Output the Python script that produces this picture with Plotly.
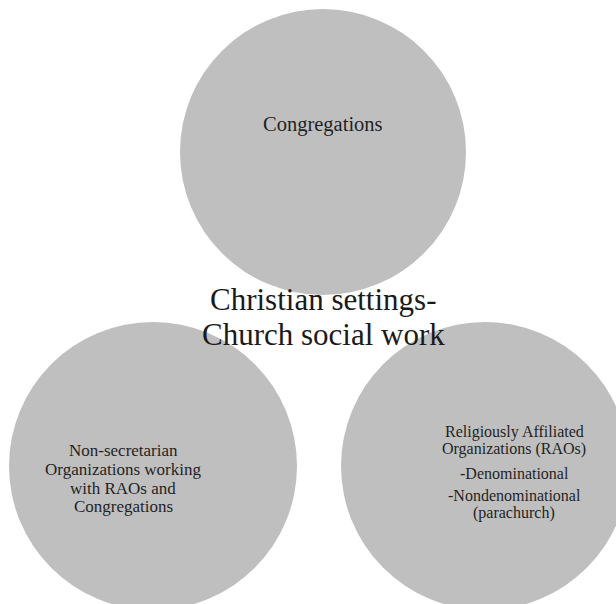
import plotly.graph_objects as go

# Diagram content
top_lines = ["Congregations"]
left_lines = ["Non-secretarian", "Organizations working", "with RAOs and", "Congregations"]
right_lines = ["Religiously Affiliated", "Organizations (RAOs)", "-Denominational",
               "-Nondenominational", "(parachurch)"]
center_lines = ["Christian settings-", "Church social work"]

W, H = 616, 604
circles = [(323, 152, 143), (153, 466, 144), (485, 466, 144)]
CIRCLE_COLOR = "#bfbfbf"

fig = go.Figure()
fig.add_trace(go.Scatter(x=[0, W], y=[0, H], mode="markers",
                         marker=dict(opacity=0), hoverinfo="skip", showlegend=False))

for cx, cy, r in circles:
    fig.add_shape(type="circle", xref="x", yref="y",
                  x0=cx - r, x1=cx + r, y0=cy - r, y1=cy + r,
                  fillcolor=CIRCLE_COLOR, line=dict(width=0), layer="below")

def add_lines(lines, x, ys, size, family, color):
    for txt, y in zip(lines, ys):
        fig.add_annotation(x=x, y=y, xref="x", yref="y", text=txt, showarrow=False,
                           xanchor="center", yanchor="middle",
                           font=dict(family=family, size=size, color=color))

serif = "Liberation Serif, Times New Roman, serif"
add_lines(top_lines, 323, [124], 20.5, serif, "#1f1f1f")
add_lines(left_lines, 123, [450, 469, 488, 506], 17, serif, "#1f1f1f")
add_lines(right_lines, 514, [432, 449, 473, 495, 512.5], 16, serif, "#1f1f1f")
add_lines(center_lines, 323, [299, 334], 31, serif, "#1a1a1a")

fig.update_layout(width=W, height=H, margin=dict(l=0, r=0, t=0, b=0),
                  paper_bgcolor="white", plot_bgcolor="white",
                  xaxis=dict(range=[0, W], visible=False, fixedrange=True),
                  yaxis=dict(range=[H, 0], visible=False, fixedrange=True),
                  showlegend=False)
fig.write_html("out.html", config={"displayModeBar": False},
               post_script="document.body.style.margin='0';")
